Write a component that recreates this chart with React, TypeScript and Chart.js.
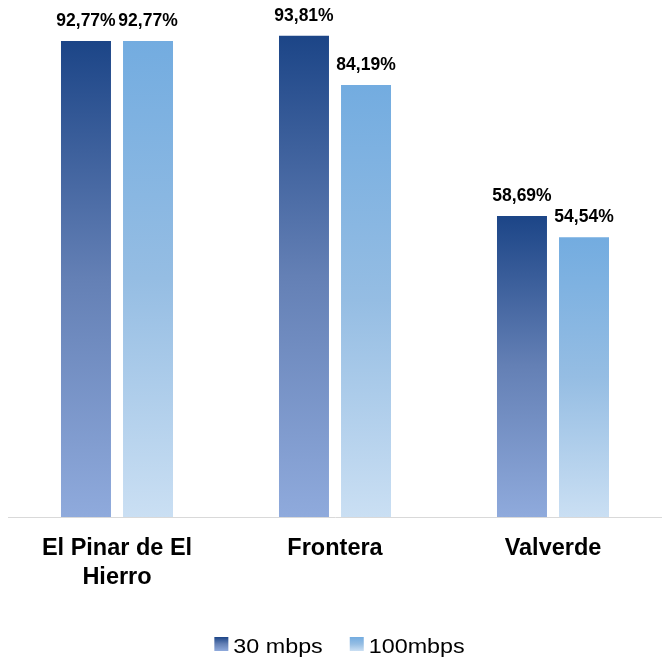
import React, { useEffect, useRef } from "react";
import { Chart, registerables } from "chart.js";

Chart.register(...registerables);

const categories: (string | string[])[] = [["El Pinar de El", "Hierro"], "Frontera", "Valverde"];
const seriesNames = ["30 mbps", "100mbps"];
const series30 = [92.77, 93.81, 58.69];
const series100 = [92.77, 84.19, 54.54];

const darkStops: [number, string][] = [[0, "#1c4587"], [0.5, "#6480b5"], [1, "#8faadc"]];
const lightStops: [number, string][] = [[0, "#73ace0"], [0.5, "#95bde3"], [1, "#cadff3"]];

function barGradient(stops: [number, string][]) {
  return (ctx: any) => {
    const chart = ctx.chart;
    if (!chart.chartArea || ctx.type !== "data" || !ctx.parsed) return stops[1][1];
    const y = chart.scales.y;
    const top = y.getPixelForValue(ctx.parsed.y);
    const base = y.getPixelForValue(0);
    const g = chart.ctx.createLinearGradient(0, top, 0, base);
    stops.forEach(([o, c]) => g.addColorStop(o, c));
    return g;
  };
}

const valueLabels = {
  id: "valueLabels",
  afterDatasetsDraw(chart: any) {
    const ctx = chart.ctx;
    ctx.save();
    ctx.font = "bold 17.5px 'Liberation Sans', Arial, sans-serif";
    ctx.fillStyle = "#000";
    ctx.textAlign = "center";
    ctx.textBaseline = "alphabetic";
    chart.data.datasets.forEach((ds: any, i: number) => {
      const meta = chart.getDatasetMeta(i);
      meta.data.forEach((el: any, j: number) => {
        const v = ds.data[j] as number;
        ctx.fillText(v.toFixed(2).replace(".", ",") + "%", el.x, el.y - 15);
      });
    });
    ctx.restore();
  },
};

const bottomLegend = {
  id: "bottomLegend",
  afterDraw(chart: any) {
    const ctx = chart.ctx;
    const stopsList = [darkStops, lightStops];
    const box = 14;
    const gapText = 5;
    const gapItem = 27;
    const sx = 1.11;
    ctx.save();
    ctx.font = "21px 'Liberation Sans', Arial, sans-serif";
    const widths = seriesNames.map((t) => ctx.measureText(t).width * sx);
    const total = widths.reduce((a, w) => a + box + gapText + w, 0) + gapItem * (seriesNames.length - 1);
    let x = 339.5 - total / 2;
    const boxTop = 637;
    const baseline = 652.5;
    seriesNames.forEach((name, i) => {
      const g = ctx.createLinearGradient(0, boxTop, 0, boxTop + box);
      stopsList[i].forEach(([o, c]) => g.addColorStop(o, c));
      ctx.fillStyle = g;
      ctx.fillRect(x, boxTop, box, box);
      x += box + gapText;
      ctx.fillStyle = "#000";
      ctx.textAlign = "left";
      ctx.textBaseline = "alphabetic";
      ctx.save();
      ctx.translate(x, baseline);
      ctx.scale(sx, 1);
      ctx.fillText(name, 0, 0);
      ctx.restore();
      x += widths[i] + gapItem;
    });
    ctx.restore();
  },
};

export default function App() {
  const ref = useRef<HTMLCanvasElement>(null);
  useEffect(() => {
    const chart = new Chart(ref.current!, {
      type: "bar",
      data: {
        labels: categories,
        datasets: [
          { label: seriesNames[0], data: series30, backgroundColor: barGradient(darkStops) as any },
          { label: seriesNames[1], data: series100, backgroundColor: barGradient(lightStops) as any },
        ],
      },
      options: {
        animation: false,
        responsive: true,
        maintainAspectRatio: false,
        layout: { padding: { left: 8, right: 0, top: 4, bottom: 58 } },
        datasets: { bar: { categoryPercentage: 0.569, barPercentage: 0.806 } },
        scales: {
          x: {
            grid: { display: false },
            border: { display: true, color: "#d9d9d9", width: 1 },
            ticks: {
              color: "#000",
              padding: 9,
              maxRotation: 0,
              font: { family: "'Liberation Sans', Arial, sans-serif", size: 23.5, weight: "bold", lineHeight: 1.234 },
            },
          },
          y: { display: false, min: 0, max: 100 },
        },
        plugins: {
          legend: { display: false },
          tooltip: { enabled: false },
        },
      },
      plugins: [valueLabels, bottomLegend],
    });
    return () => chart.destroy();
  }, []);
  return (
    <div style={{ position: "fixed", left: 0, top: 0, width: 662, height: 659 }}>
      <canvas ref={ref} />
    </div>
  );
}
